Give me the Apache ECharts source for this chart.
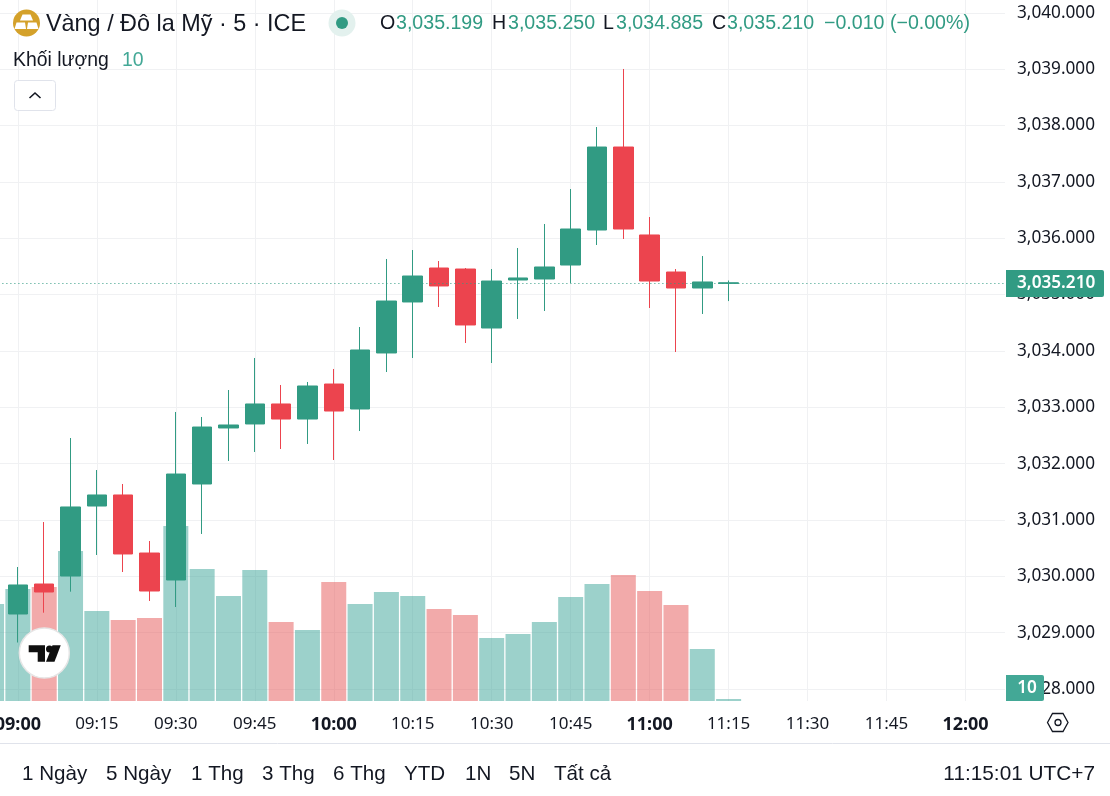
<!DOCTYPE html>
<html><head><meta charset="utf-8">
<style>html,body{margin:0;padding:0;background:#fff;overflow:hidden}#c{width:1110px;height:796px}</style>
<script src="https://cdn.jsdelivr.net/npm/echarts@6/dist/echarts.min.js"></script>
</head><body><div id="c"></div>
<script>
const times = ['08:55','09:00','09:05','09:10','09:15','09:20','09:25','09:30','09:35','09:40','09:45','09:50','09:55','10:00','10:05','10:10','10:15','10:20','10:25','10:30','10:35','10:40','10:45','10:50','10:55','11:00','11:05','11:10','11:15','11:20','11:25','11:30','11:35','11:40','11:45','11:50','11:55','12:00','12:05'];
const opens  = [null,3029.332,3029.864,3030.006,3031.248,3031.444,3030.414,3029.935,3031.639,3032.633,3032.704,3033.059,3032.792,3033.413,3032.970,3033.964,3034.869,3035.472,3035.454,3034.407,3035.259,3035.277,3035.525,3036.146,3037.619,3036.058,3035.401,3035.117,3035.199];
const closes = [null,3029.847,3029.722,3031.231,3031.444,3030.397,3029.740,3031.816,3032.650,3032.686,3033.059,3032.792,3033.378,3032.934,3034.017,3034.886,3035.330,3035.153,3034.461,3035.241,3035.295,3035.490,3036.164,3037.619,3036.164,3035.241,3035.117,3035.224,3035.210];
const lows   = [null,3028.826,3029.355,3029.728,3030.379,3030.077,3029.563,3029.456,3030.752,3032.047,3032.207,3032.260,3032.349,3032.065,3032.579,3033.626,3033.875,3034.780,3034.141,3033.786,3034.567,3034.709,3035.206,3035.880,3035.987,3034.762,3033.981,3034.656,3034.885];
const highs  = [null,3030.166,3030.964,3032.455,3031.887,3031.639,3030.627,3032.917,3032.828,3033.307,3033.875,3033.396,3033.449,3033.680,3034.425,3035.632,3035.791,3035.596,3035.472,3035.454,3035.827,3036.253,3036.874,3037.974,3039.004,3036.377,3035.454,3035.685,3035.250];
const volumes = [485,560,570,750,450,405,415,875,660,525,655,395,355,595,485,545,525,460,430,315,335,395,520,585,630,550,480,260,10];
const lastPrice = 3035.21;
const rangeButtons = [['1 Ngày',22],['5 Ngày',106],['1 Thg',191],['3 Thg',262],['6 Thg',333],['YTD',404],['1N',465],['5N',509],['Tất cả',554]];
const ohlc = [['O',380,'3,035.199',396],['H',492,'3,035.250',508],['L',603,'3,034.885',616],['C',712,'3,035.210',727]];

const UP='#319b83', DOWN='#ec444e', INK='#131722', GRID='#f0f1f3';
const AXISFONT='"Noto Sans"', UIFONT='"Liberation Sans"';
const isUp = i => closes[i]==null || closes[i]>=opens[i];
const majors = ['09:00','10:00','11:00','12:00'];
const onQuarter = (i,v) => { const t=v||times[i]; return +t.slice(3)%15===0; };

const txt=(text,x,y,o={})=>({type:'text',z:o.z||50,x,y,silent:true,style:{text,fill:o.fill||INK,font:(o.weight||'normal')+' '+(o.size||20)+'px '+(o.family||UIFONT),align:o.align||'left',verticalAlign:'middle'}});
const poly=(pts,fill)=>({type:'polygon',z:50,silent:true,shape:{points:pts},style:{fill}});
const circ=(cx,cy,r,style)=>({type:'circle',z:50,silent:true,shape:{cx,cy,r},style});

const graphic=[
  {type:'rect',z:40,silent:true,shape:{x:0,y:743,width:1110,height:53},style:{fill:'#fff'}},
  {type:'line',z:41,silent:true,shape:{x1:0,y1:743.5,x2:1110,y2:743.5},style:{stroke:'#e0e3eb',lineWidth:1}},
  circ(26.5,23,13.5,{fill:'#d4a12a'}),
  poly([[22.5,14.5],[30.5,14.5],[33,20.5],[20,20.5]],'#fff'),
  poly([[16.5,22.5],[25,22.5],[26,29],[14.5,29]],'#fff'),
  poly([[28,22.5],[36.5,22.5],[38.5,29],[27,29]],'#fff'),
  txt('Vàng / Đô la Mỹ · 5 · ICE',46,24.5,{size:23.4}),
  circ(342,23,13.5,{fill:'#e3f1ee'}),circ(342,23,6,{fill:UP}),
  txt('−0.010 (−0.00%)',824,24,{fill:UP,size:19.6}),
  txt('Khối lượng',13,60.5,{size:19.4}),txt('10',122,60.5,{fill:'#43a896',size:19.4}),
  {type:'rect',z:50,silent:true,shape:{x:14.5,y:80.5,width:41,height:30,r:3},style:{fill:'#fff',stroke:'#e0e3eb',lineWidth:1}},
  {type:'polyline',z:51,silent:true,shape:{points:[[29.5,98],[35,93],[40.5,98]]},style:{fill:'none',stroke:INK,lineWidth:1.6}},
  circ(44.3,653,25,{fill:'#fff',stroke:'#e6e6e6',lineWidth:1.5}),
  poly([[28.7,645.3],[45,645.3],[45,661.7],[37.7,661.7],[37.7,652.3],[28.7,652.3]],'#0f0f0f'),
  circ(49.5,649,3.5,{fill:'#0f0f0f'}),
  poly([[52.5,645.3],[60.7,645.3],[54.5,661.7],[46,661.7]],'#0f0f0f'),
  {type:'rect',z:45,silent:true,shape:{x:1006,y:270,width:98,height:27,r:[0,2,2,0]},style:{fill:UP}},
  txt('3,035.210',1017,283,{fill:'#fff',size:17.2,family:AXISFONT,z:46,weight:600}),
  {type:'rect',z:45,silent:true,shape:{x:1006,y:675,width:38,height:26,r:[0,2,2,0]},style:{fill:'#43a896'}},
  txt('10',1027,688,{fill:'#fff',size:17.2,family:AXISFONT,align:'center',z:46,weight:600}),
  poly([[1047.5,722.5],[1052.5,713.5],[1063,713.5],[1068,722.5],[1063,731.5],[1052.5,731.5]],'none'),
  circ(1058,722.5,3,{fill:'none',stroke:INK,lineWidth:1.3}),
  txt('11:15:01 UTC+7',1095,774,{align:'right',size:20.8})
];
graphic[graphic.length-3].style={fill:'none',stroke:INK,lineWidth:1.3};
ohlc.forEach(r=>{graphic.push(txt(r[0],r[1],24,{size:19.6}));graphic.push(txt(r[2],r[3],24,{fill:UP,size:19.6}));});
rangeButtons.forEach(r=>graphic.push(txt(r[0],r[1],774,{size:20.6})));

const chart=echarts.init(document.getElementById('c'),null,{renderer:'canvas'});
chart.setOption({
  animation:false,backgroundColor:'#fff',graphic,
  grid:[
    {left:-21.6,width:1026.6,top:0,height:701,outerBoundsMode:'none'},
    {left:-21.6,width:1026.6,top:-43.5,height:788.9,outerBoundsMode:'none'}
  ],
  xAxis:[
    {type:'category',gridIndex:0,data:times,boundaryGap:true,
     axisLine:{show:false},axisTick:{show:false},
     splitLine:{show:true,alignWithLabel:true,interval:onQuarter,lineStyle:{color:GRID,width:1}},
     axisLabel:{interval:onQuarter,hideOverlap:false,margin:15,color:INK,fontFamily:AXISFONT,fontSize:17,
       formatter:v=>majors.includes(v)?'{b|'+v+'}':v,
       rich:{b:{fontWeight:'bold',fontFamily:AXISFONT,fontSize:18,color:INK}}}},
    {type:'category',gridIndex:1,data:times,boundaryGap:true,show:false}
  ],
  yAxis:[
    {type:'value',gridIndex:0,min:0,max:3505,show:false,splitLine:{show:false}},
    {type:'value',gridIndex:1,position:'right',min:3027,max:3041,interval:1,scale:true,
     axisLine:{show:false},axisTick:{show:false},
     splitLine:{show:true,showMinLine:false,showMaxLine:false,lineStyle:{color:GRID,width:1}},
     axisLabel:{margin:12,color:INK,fontFamily:AXISFONT,fontSize:17.2,showMinLabel:false,showMaxLabel:false,padding:[0,0,7,0],
       formatter:v=>v.toLocaleString('en-US',{minimumFractionDigits:3,maximumFractionDigits:3})}}
  ],
  series:[
    {type:'bar',name:'Khối lượng',xAxisIndex:0,yAxisIndex:0,barWidth:25,z:2,
     data:volumes.map((v,i)=>({value:v,itemStyle:{color:isUp(i)?'rgba(57,163,151,.5)':'rgba(229,85,85,.5)'}}))},
    {type:'candlestick',name:'XAU/USD',xAxisIndex:1,yAxisIndex:1,barWidth:20,z:3,
     data:opens.map((o,i)=>o==null?['-','-','-','-']:[o,closes[i],lows[i],highs[i]]),
     itemStyle:{color:UP,color0:DOWN,borderColor:UP,borderColor0:DOWN,borderWidth:1},
     markLine:{silent:true,symbol:'none',label:{show:false},animation:false,
       lineStyle:{color:UP,type:[1,3],width:1},data:[{yAxis:lastPrice}]}}
  ]
});
</script></body></html>
